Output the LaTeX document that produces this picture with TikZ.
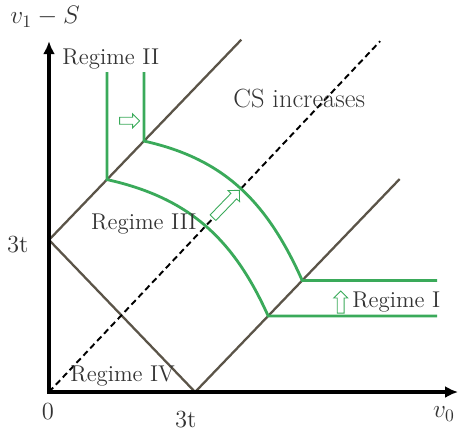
\documentclass[tikz,border=0pt]{standalone}
\usepackage{amsmath}
\usepackage{xcolor}
\usepackage{tikz}
\usetikzlibrary{
  arrows.meta,
  shapes.arrows
}

\definecolor{linegray}{RGB}{91,84,72}
\definecolor{curvegreen}{RGB}{58,170,90}

\begin{document}
\begin{tikzpicture}[
  x=0.974cm,
  y=1.014cm,
  axis/.style={
    line width=2.3pt,
    line join=miter,
    {Latex[length=0.26cm,width=0.24cm]}-{Latex[length=0.26cm,width=0.24cm]}
  },
  boundary/.style={
    draw=linegray,
    line width=1.3pt
  },
  surplus/.style={
    draw=black,
    line width=1.1pt,
    dash pattern=on 3.5pt off 2.2pt
  },
  regime/.style={
    draw=curvegreen,
    line width=1.6pt
  },
  movearrow/.style={
    single arrow,
    draw=curvegreen,
    fill=white,
    line width=0.5pt,
    inner sep=0.06cm,
    single arrow head extend=0.07cm
  },
  regimetext/.style={
    text=black!80,
    inner sep=0pt,
    font=\fontsize{13}{15}\selectfont
  },
  axistext/.style={
    text=black!80,
    inner sep=0pt,
    font=\fontsize{14}{16}\selectfont
  }
]

\useasboundingbox (-1.006,-0.809) rectangle (8.419,7.732);

% Key points
\coordinate (O) at (0,0);
\coordinate (ytop) at (0,6.92);
\coordinate (xend) at (8.40,0);
\coordinate (y3) at (0,3);
\coordinate (x3) at (3,0);
\coordinate (diagend) at (3.95,6.95);
\coordinate (lowend) at (7.20,4.20);
\coordinate (csend) at (6.80,6.92);

% Green boundary corners
\coordinate (p0) at (1.19,6.31);
\coordinate (p1) at (1.19,4.19);
\coordinate (p2) at (4.50,1.50);
\coordinate (p3) at (7.97,1.50);
\coordinate (q0) at (1.95,6.31);
\coordinate (q1) at (1.95,4.95);
\coordinate (q2) at (5.20,2.20);
\coordinate (q3) at (7.97,2.20);

% Gray boundaries
\draw[boundary] (y3) -- (diagend);
\draw[boundary] (y3) -- (x3);
\draw[boundary] (x3) -- (lowend);

% CS line
\draw[surplus] (O) -- (csend);

% Regime curves
\draw[regime] (p0) -- (p1) .. controls +(-12:1.7) and +(115:1.7) .. (p2) -- (p3);
\draw[regime] (q0) -- (q1) .. controls +(-12:1.7) and +(115:1.7) .. (q2) -- (q3);

% Axes
\draw[axis] (ytop) -- (O) -- (xend);

% Shift arrows
\node[movearrow, minimum height=0.40cm, minimum width=0.28cm] (shiftII) at (1.62,5.35) {};
\node[movearrow, minimum height=0.76cm, minimum width=0.32cm, rotate=46] (shiftIII) at (3.61,3.68) {};
\node[movearrow, minimum height=0.44cm, minimum width=0.26cm, rotate=90] (shiftI) at (5.99,1.74) {};

% Labels
\node[regimetext, anchor=base west] (regII) at (0.27,6.45) {Regime II};
\node[regimetext, anchor=base west, font=\fontsize{15}{17}\selectfont] (csinc) at (3.78,5.62) {CS increases};
\node[regimetext, anchor=base west] (regIII) at (0.86,3.21) {Regime III};
\node[regimetext, anchor=base west] (regI) at (6.22,1.66) {Regime I};
\node[regimetext, anchor=base west] (regIV) at (0.43,0.20) {Regime IV};

\node[axistext, anchor=base] (ythree) at (-0.64,2.76) {3t};
\node[axistext, anchor=base] (xthree) at (2.81,-0.69) {3t};
\node[axistext, anchor=base] (zero) at (-0.02,-0.55) {0};
\node[axistext] (xlab) at (8.11,-0.43) {$v_0$};
\node[axistext] (ylab) at (-0.08,7.40) {$v_1 - S$};

\end{tikzpicture}
\end{document}
